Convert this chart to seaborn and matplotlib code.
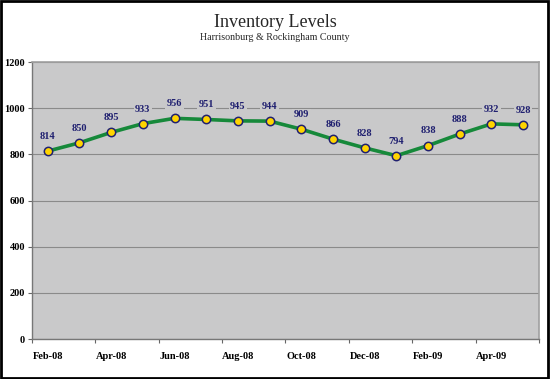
import matplotlib

matplotlib.use("Agg")
import matplotlib.pyplot as plt
import numpy as np
import pandas as pd
import seaborn as sns
from matplotlib.patches import Rectangle
from matplotlib.ticker import FixedLocator, MultipleLocator

months = ["Feb-08", "Mar-08", "Apr-08", "May-08", "Jun-08", "Jul-08", "Aug-08", "Sep-08",
          "Oct-08", "Nov-08", "Dec-08", "Jan-09", "Feb-09", "Mar-09", "Apr-09", "May-09"]
inventory = [814, 850, 895, 933, 956, 951, 945, 944, 909, 866, 828, 794, 838, 888, 932, 928]

PLOT_BG = "#C9C9CA"
NAVY = "#202070"
GREEN = "#16893A"
YELLOW = "#FFD400"

sns.set_theme(style="white", rc={"axes.facecolor": PLOT_BG})
plt.rcParams["font.family"] = ["Liberation Serif", "DejaVu Serif"]

df = pd.DataFrame({"pos": np.arange(len(months)), "month": months, "inventory": inventory})

fig = plt.figure(figsize=(5.5, 3.79), dpi=100, facecolor="white")
ax = fig.add_axes([0.058, 0.1055, 0.922, 0.7309])
ax.set_facecolor(PLOT_BG)

sns.lineplot(data=df, x="pos", y="inventory", ax=ax, color=GREEN, linewidth=2.6,
             marker="o", markersize=6, markerfacecolor=YELLOW, markeredgecolor=NAVY,
             markeredgewidth=1.1, zorder=4)

for p, v in zip(df["pos"], df["inventory"]):
    ax.annotate(f"{v}", (p, v), xytext=(0, 10.5), textcoords="offset points",
                ha="center", va="center", fontsize=7.5, fontweight="bold", color=NAVY,
                bbox=dict(boxstyle="square,pad=0.15", facecolor=PLOT_BG, edgecolor="none"),
                zorder=5)

ax.set_xlim(-0.5, len(months) - 0.5)
ax.set_ylim(0, 1200)
ax.yaxis.set_major_locator(MultipleLocator(200))
ax.grid(axis="y", color="#8A8A8A", linewidth=0.8)
ax.set_axisbelow(True)

label_pos = list(range(0, len(months), 2))
ax.set_xticks(label_pos)
ax.set_xticklabels([months[i] for i in label_pos])
ax.xaxis.set_minor_locator(FixedLocator([i - 0.5 for i in label_pos] + [len(months) - 0.5]))
ax.tick_params(axis="x", which="major", length=0, pad=9, labelsize=7.5, colors="black")
ax.tick_params(axis="x", which="minor", length=3, width=0.8, color="#666666", direction="out", bottom=True)
ax.tick_params(axis="y", length=3, width=0.8, color="#666666", direction="out", left=True,
               labelsize=7.5, colors="black", pad=2)
for lab in ax.get_xticklabels() + ax.get_yticklabels():
    lab.set_fontweight("bold")

for side in ["top", "right"]:
    ax.spines[side].set_color("#A0A0A0")
    ax.spines[side].set_linewidth(1.2)
for side in ["left", "bottom"]:
    ax.spines[side].set_color("#777777")
    ax.spines[side].set_linewidth(1.0)

ax.set_xlabel("")
ax.set_ylabel("")

fig.text(0.5, 0.94, "Inventory Levels", ha="center", va="center", fontsize=13)
fig.text(0.5, 0.9, "Harrisonburg & Rockingham County", ha="center", va="center", fontsize=7.2)

fig.patches.append(Rectangle((0.002, 0.003), 0.995, 0.994, transform=fig.transFigure,
                             fill=False, edgecolor="black", linewidth=2))

fig.savefig("out.png", dpi=100, facecolor="white")
